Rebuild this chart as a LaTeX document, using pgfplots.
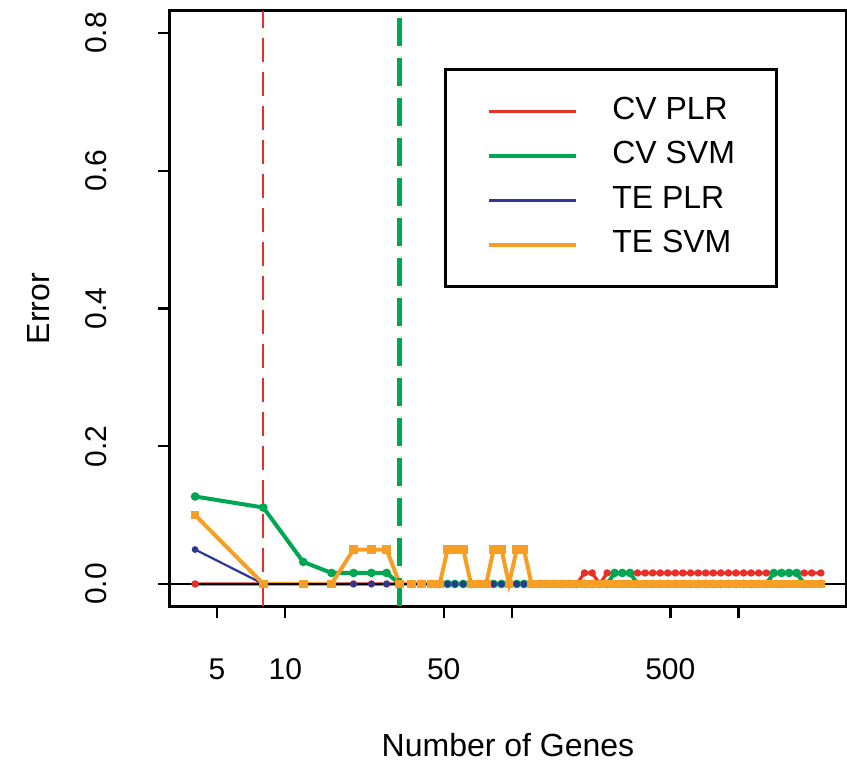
\documentclass[border=0pt]{standalone}
\usepackage{fontspec}
\setmainfont{Liberation Sans}
\usepackage{pgfplots}
\pgfplotsset{compat=1.18}
\usepackage{pgfplotstable}

\definecolor{cvplr}{RGB}{232,48,40}
\definecolor{cvsvm}{RGB}{0,166,81}
\definecolor{teplr}{RGB}{45,55,150}
\definecolor{tesvm}{RGB}{247,158,36}

\pgfplotstableread{
n cvplr cvsvm teplr tesvm
4 0 0.127 0.05 0.10
8 0 0.111 0 0
12 0 0.032 0 0
16 0 0.016 0 0
20 0 0.016 0 0.05
24 0 0.016 0 0.05
28 0 0.016 0 0.05
32 0 0 0 0
36 0 0 0 0
40 0 0 0 0
44 0 0 0 0
48 0 0 0 0
52 0 0 0 0.05
56 0 0 0 0.05
61 0 0 0 0.05
66 0 0 0 0
71 0 0 0 0
77 0 0 0 0
83 0 0 0 0.05
90 0 0 0 0.05
97 0 0 0 0
105 0 0 0 0.05
113 0 0 0 0.05
122 0 0 0 0
132 0 0 0 0
142 0 0 0 0
154 0 0 0 0
166 0 0 0 0
179 0 0 0 0
193 0 0 0 0
209 0.016 0 0 0
226 0.016 0 0 0
244 0 0 0 0
263 0.016 0 0 0
284 0.016 0.016 0 0
307 0.016 0.016 0 0
332 0.016 0.016 0 0
358 0.016 0 0 0
387 0.016 0 0 0
418 0.016 0 0 0
451 0.016 0 0 0
487 0.016 0 0 0
526 0.016 0 0 0
568 0.016 0 0 0
614 0.016 0 0 0
663 0.016 0 0 0
716 0.016 0 0 0
773 0.016 0 0 0
835 0.016 0 0 0
902 0.016 0 0 0
974 0.016 0 0 0
1052 0.016 0 0 0
1136 0.016 0 0 0
1227 0.016 0 0 0
1325 0.016 0 0 0
1431 0.016 0.016 0 0
1546 0.016 0.016 0 0
1670 0.016 0.016 0 0
1803 0.016 0.016 0 0
1948 0.016 0 0 0
2103 0.016 0 0 0
2308 0.016 0 0 0
}\errtable

\begin{document}
\begin{tikzpicture}
\useasboundingbox (-85pt,-80pt) rectangle (338.5pt,303pt);
\begin{axis}[
  at={(0pt,0pt)}, anchor=south west,
  scale only axis, width=338pt, height=297.5pt,
  xmode=log, log basis x=10,
  xmin=3.10, xmax=2979, ymin=-0.032, ymax=0.832,
  axis line style={line width=1.5pt},
  tick pos=left, tick align=outside,
  major tick length=6pt,
  tick style={line width=1.2pt, black},
  xtick={5,10,50,100,500,1000}, xticklabels={5,10,50,,500,},
  minor xtick={}, minor ytick={},
  ytick={0,0.2,0.4,0.6,0.8}, yticklabels={0.0,0.2,0.4,0.6,0.8},
  xticklabel style={font=\fontsize{15}{18}\selectfont, anchor=center, yshift=-25.5pt},
  yticklabel style={font=\fontsize{15}{18}\selectfont, rotate=90, anchor=center, yshift=31pt},
  xlabel={Number of Genes}, ylabel={Error},
  every axis x label/.style={at={(axis description cs:0.5,-0.2336)}, anchor=center, font=\fontsize{16}{19}\selectfont},
  every axis y label/.style={at={(axis description cs:-0.195,0.5)}, rotate=90, anchor=center, font=\fontsize{16}{19}\selectfont},
  legend style={
    at={(rel axis cs:0.405,0.904)}, anchor=north west,
    draw=black, line width=1.5pt,
    font=\fontsize{16}{19}\selectfont,
    inner xsep=21pt, inner ysep=13.2pt,
    row sep=6.75pt, column sep=17pt,
    nodes={inner sep=0pt, text height=11.5pt, text depth=4pt}
  },
  legend cell align=left,
  legend image code/.code={\draw[#1, mark=none] (0pt,0pt) -- (43.5pt,0pt);},
]
\addplot[cvplr, line width=1.6pt, mark=*, mark size=1pt] table[x=n,y=cvplr]{\errtable};
\addlegendentry{CV PLR}
\addplot[cvsvm, line width=2pt, mark=*, mark size=1.1pt] table[x=n,y=cvsvm]{\errtable};
\addlegendentry{CV SVM}
\addplot[teplr, line width=1.1pt, mark=*, mark size=1.1pt] table[x=n,y=teplr]{\errtable};
\addlegendentry{TE PLR}
\addplot[tesvm, line width=2pt, mark=square*, mark size=1.2pt] table[x=n,y=tesvm]{\errtable};
\addlegendentry{TE SVM}
\addplot[black, line width=0.9pt, forget plot] coordinates {(3.10,0) (2979,0)};
\addplot[cvplr, line width=1pt, dash pattern=on 12pt off 5pt, forget plot] coordinates {(8,-0.032) (8,0.832)};
\addplot[cvsvm, line width=2.5pt, dash pattern=on 14pt off 6pt, forget plot] coordinates {(32,-0.032) (32,0.832)};
\end{axis}
\end{tikzpicture}
\end{document}
